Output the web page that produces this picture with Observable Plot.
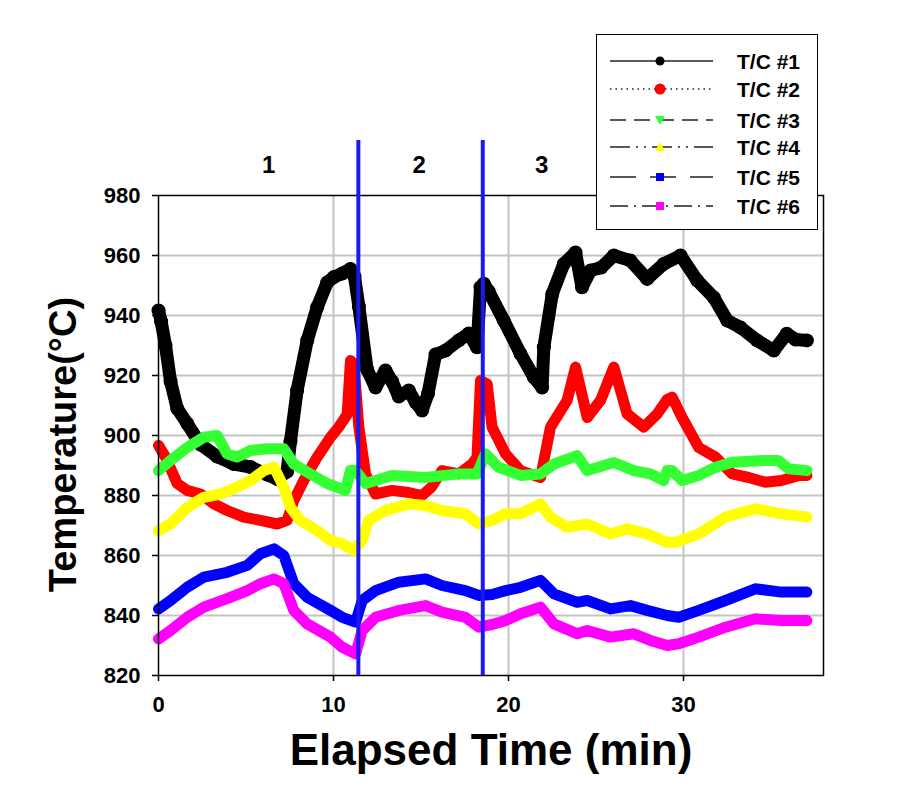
<!DOCTYPE html>
<html>
<head>
<meta charset="utf-8">
<script src="https://cdn.jsdelivr.net/npm/d3@7"></script>
<script src="https://cdn.jsdelivr.net/npm/@observablehq/plot@0.6"></script>
<style>
  html, body { margin: 0; padding: 0; background: #fff; }
  #wrap { position: relative; width: 901px; height: 800px; font-family: "Liberation Sans", Arial, sans-serif; }
  #legend { position: absolute; left: 596px; top: 34px; width: 222px; height: 196px; box-sizing: border-box;
            border: 1.5px solid #000; background: #fff; }
  #legend svg { display: block; }
</style>
</head>
<body>
<div id="wrap"></div>
<script>
// ---- data (elapsed time in min, temperature in °C) ----
const tc1 = [[0,941.7],[0.15,938],[0.4,930],[0.69,918],[1.07,909],[1.64,904],[2.4,897],[3.35,893],[4.3,890.5],[5.26,889.5],[6.2,887],[6.78,885.5],[7.35,888],[7.54,898],[7.92,915],[8.5,931.7],[9.07,942.8],[9.64,951],[10.02,952.8],[10.5,954],[10.97,955.5],[11.2,953],[11.45,943],[11.92,922],[12.4,916],[12.97,921.7],[13.35,918],[13.73,913],[14.3,915],[14.7,911],[15.06,908.3],[15.4,913.9],[15.83,927],[16.4,928.3],[17.16,931.7],[17.73,934],[18.2,929.4],[18.4,949.4],[18.59,950.6],[18.87,948],[19.73,938.3],[20.69,927.2],[21.45,919.4],[21.92,916],[22.02,929.4],[22.5,947.2],[23.16,957.2],[23.83,961],[24.2,949.4],[24.69,955],[25.3,956],[26.02,960],[26.97,958.3],[27.92,952.2],[28.87,957.2],[29.83,960],[30.78,951.7],[31.73,946],[32.5,938.3],[33.26,936],[34.2,931.7],[35.16,928.3],[35.9,933.9],[36.4,932],[37.05,931.7]];
const tc2 = [[0,896.7],[0.4,892.8],[1.07,884],[1.64,881.7],[2.4,880.5],[3.16,877.2],[3.92,875],[4.87,872.8],[5.83,871.7],[6.78,870.5],[7.35,871.7],[7.73,878.3],[8.3,885],[9.07,892.8],[9.83,899.4],[10.3,902.8],[10.78,907],[10.97,925],[11.16,924],[11.45,902.8],[11.83,887.2],[12.4,880.5],[13.35,881.7],[14.3,881],[15.06,880],[15.6,882.8],[16.2,888.3],[17.16,887.2],[17.92,890.5],[18.2,892.8],[18.4,918.3],[18.78,917.2],[19.06,902.8],[19.83,893.9],[20.69,888.3],[21.83,886],[22.4,902.8],[23.35,911.7],[23.83,922.8],[24.5,906],[25.26,911.7],[26.02,922.8],[26.78,907.2],[27.73,902.8],[28.5,907.2],[29.07,912],[29.35,912.8],[29.92,906],[30.87,896],[31.83,892.8],[32.78,887.2],[33.73,886],[34.68,884.4],[35.6,885],[36.6,886.7],[37.05,886.7]];
const tc3 = [[0,888.3],[0.69,891.7],[1.64,896],[2.59,899.4],[3.35,900],[3.92,893.9],[4.49,892.8],[5.26,895],[6.2,895.6],[7.16,895.6],[7.73,890.5],[8.68,887.2],[9.64,884],[10.68,881.7],[10.97,888.3],[11.26,888.3],[11.83,884],[12.4,885],[13.35,886.7],[15.26,886],[17.16,887.2],[18.2,887.2],[18.68,893.9],[19.44,889.4],[20.69,886.7],[21.83,887.2],[22.6,890.5],[23.92,893.3],[24.5,888.3],[26.02,891],[27.16,888.3],[28.11,887.2],[28.87,885],[29.07,888.3],[29.35,888.3],[29.92,885],[30.87,886.7],[31.83,889.4],[32.78,891.1],[34.68,891.7],[35.4,891.7],[36,888.9],[37.05,888.3]];
const tc4 = [[0,868.3],[0.69,870.5],[1.64,876],[2.59,879.4],[3.54,880.5],[4.49,882.8],[5.26,885],[6.02,888.3],[6.6,889.4],[7.16,882.8],[7.54,876],[8.1,871.7],[9.07,868.3],[9.83,865],[10.5,863.9],[11.16,861.7],[11.64,865],[12,871.7],[12.97,875],[14.3,877.2],[15.26,876.7],[16.2,875],[17.54,873.9],[18.3,870.5],[19.06,871.7],[19.83,873.9],[20.69,873.9],[21.83,877.2],[22.4,872.8],[23.35,869.4],[24.5,870.5],[25.83,867.2],[26.78,868.9],[27.92,867.2],[29.07,864.4],[29.54,864.4],[30.87,867.2],[32.4,872.8],[34.1,875.6],[35.6,873.9],[37.05,872.8]];
const tc5 = [[0,842.2],[0.69,845],[1.64,849.4],[2.59,852.8],[3.92,854.4],[5.07,856.7],[5.83,860.6],[6.6,862.2],[7.16,860],[7.73,850.6],[8.49,846.1],[9.83,841.7],[10.5,839.4],[11.26,837.8],[11.64,845],[12.4,848.3],[13.73,851.1],[15.26,852.2],[16.2,850],[17.54,848.3],[18.3,846.7],[19.06,847],[19.83,848.3],[20.69,849.4],[21.83,851.7],[22.6,847.2],[23.92,844.4],[24.5,845],[25.83,842.2],[26.97,843.3],[27.92,841.7],[29.07,840],[29.73,839.4],[30.87,841.7],[32.4,845],[34.1,848.9],[35.6,847.8],[37.05,847.8]];
const tc6 = [[0,832.2],[0.69,835],[1.64,839.4],[2.59,842.8],[3.92,845.6],[5.07,848.3],[5.83,850.6],[6.6,852.2],[7.16,850.6],[7.73,841.7],[8.49,837.2],[9.83,832.8],[10.5,829.4],[11.26,827.2],[11.64,835],[12.4,839.4],[13.73,841.7],[15.26,843.3],[16.2,841.1],[17.54,839.4],[18.3,836.1],[19.06,837],[19.83,838.3],[20.69,840.6],[21.83,842.8],[22.6,837.2],[23.92,833.9],[24.5,835],[25.83,832.8],[27.16,833.9],[28.11,831.7],[29.07,830],[29.73,830.6],[30.87,832.8],[32.4,836.1],[34.1,838.9],[35.6,838.3],[37.05,838.3]];

const seriesNames = ["T/C #1", "T/C #2", "T/C #3", "T/C #4", "T/C #5", "T/C #6"];
const seriesColors = ["#000000", "#ff0000", "#33ff33", "#ffff00", "#0000ff", "#ff00ff"];
const seriesData = [tc1, tc2, tc3, tc4, tc5, tc6];

const xTicks = [0, 10, 20, 30];
const yTicks = [820, 840, 860, 880, 900, 920, 940, 960, 980];
const xDomain = [0, 38];
const yDomain = [820, 980];

const phaseBounds = [11.42, 18.53];
const phaseTop = 998.3;        // blue dividers extend above the frame
const phaseLabels = ["1", "2", "3"];
const phaseLabelX = [6.3, 14.9, 21.9];

const xTitle = "Elapsed Time (min)";
const yTitle = "Temperature(°C)";

// ---- chart ----
const font = '"Liberation Sans", Arial, Helvetica, sans-serif';
const lineMarks = seriesData.flatMap((data, i) => {
  const marks = [Plot.line(data, {
    x: d => d[0], y: d => d[1],
    stroke: seriesColors[i],
    strokeWidth: i === 0 ? 13 : 11,
    strokeLinejoin: "round", strokeLinecap: "round"
  })];
  if (i === 0) marks.push(Plot.dot(data, { x: d => d[0], y: d => d[1], r: 7, fill: seriesColors[i], stroke: null }));
  return marks;
});

const chart = Plot.plot({
  width: 901, height: 800,
  marginLeft: 158, marginRight: 78, marginTop: 195, marginBottom: 125,
  style: { fontFamily: font, background: "#fff", overflow: "visible" },
  x: { domain: xDomain },
  y: { domain: yDomain },
  marks: [
    Plot.gridY(yTicks.slice(1, -1), { stroke: "#c4c4c4", strokeOpacity: 1, strokeWidth: 2 }),
    Plot.gridX(xTicks.slice(1), { stroke: "#c4c4c4", strokeOpacity: 1, strokeWidth: 2 }),
    ...lineMarks,
    Plot.frame({ stroke: "#000", strokeWidth: 1.5 }),
    Plot.axisY(yTicks, { tickSize: 6, tickPadding: 12, fontSize: 22, fontWeight: "bold", label: null, stroke: "#000", strokeWidth: 1.5, fill: "#000" }),
    Plot.axisX(xTicks, { tickSize: 6, tickPadding: 15, fontSize: 22, fontWeight: "bold", label: null, stroke: "#000", strokeWidth: 1.5, fill: "#000" }),
    Plot.ruleX(phaseBounds, { y1: yDomain[0], y2: phaseTop, stroke: "#1a1aee", strokeWidth: 4, clip: false }),
    Plot.text(phaseLabels, { x: (d, i) => phaseLabelX[i], frameAnchor: "top", dy: -40, fontSize: 24, fontWeight: "bold", fill: "#000" }),
    Plot.text([xTitle], { frameAnchor: "bottom", dy: 89, fontSize: 44, fontWeight: "bold", fill: "#000" }),
    Plot.text([yTitle], { frameAnchor: "left", rotate: -90, dx: -95, dy: 9, textAnchor: "middle", fontSize: 38, fontWeight: "bold", fill: "#000" })
  ]
});

const wrap = document.getElementById("wrap");
wrap.appendChild(chart);

// ---- legend (HTML overlay) ----
const dashes = [null, "1.5,4", "16,8", "20,6,2,6,2,6", "26,14", "18,6,2,6"];
const markers = ["circle", "circle", "tri-down", "tri-up", "square", "square"];
const rowY = [26, 54, 85, 112, 142, 171];
const legend = document.createElement("div");
legend.id = "legend";
const ls = d3.create("svg").attr("width", 219).attr("height", 193);
seriesNames.forEach((name, i) => {
  const y = rowY[i];
  const g = ls.append("g");
  g.append("line").attr("x1", 13).attr("x2", 116).attr("y1", y).attr("y2", y)
    .attr("stroke", "#222").attr("stroke-width", 1.5)
    .attr("stroke-dasharray", dashes[i]);
  const cx = 63, col = seriesColors[i];
  const m = markers[i];
  if (m === "circle") g.append("circle").attr("cx", cx).attr("cy", y).attr("r", i === 1 ? 5.5 : 4.5).attr("fill", col);
  else if (m === "square") g.append("rect").attr("x", cx - 4).attr("y", y - 4).attr("width", 8).attr("height", 8).attr("fill", col);
  else if (m === "tri-down") g.append("path").attr("d", `M${cx-5},${y-4}L${cx+5},${y-4}L${cx},${y+5}Z`).attr("fill", col);
  else g.append("path").attr("d", `M${cx-5},${y+4}L${cx+5},${y+4}L${cx},${y-5}Z`).attr("fill", col);
  g.append("text").attr("x", 140).attr("y", y).attr("dy", "0.36em")
    .attr("font-family", font).attr("font-weight", "bold").attr("font-size", 21).text(name);
});
legend.appendChild(ls.node());
wrap.appendChild(legend);
</script>
</body>
</html>
